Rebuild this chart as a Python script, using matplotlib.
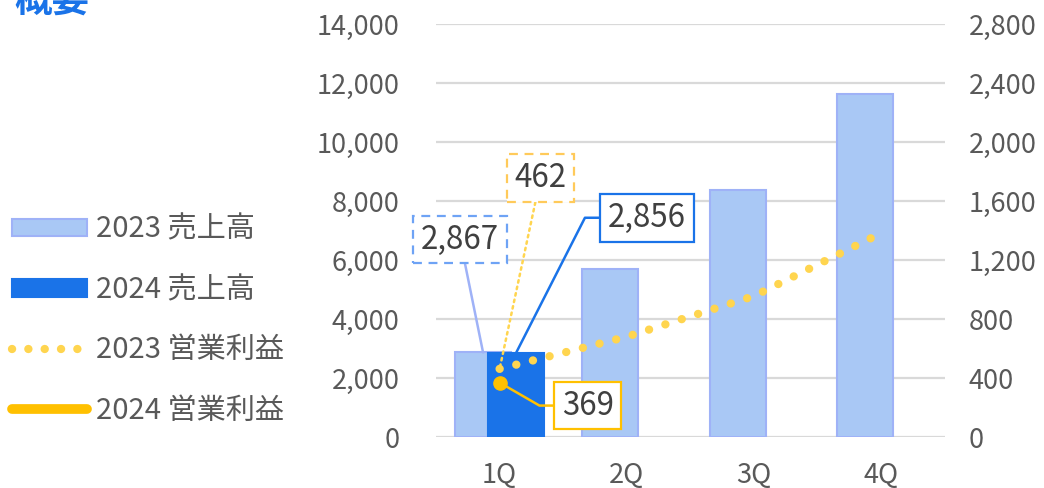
import matplotlib
matplotlib.use("Agg")
import matplotlib.pyplot as plt
from matplotlib.patches import Patch
from matplotlib.lines import Line2D
from matplotlib.ticker import FuncFormatter, MultipleLocator
import numpy as np

plt.rcParams['font.family'] = ['Noto Sans CJK JP', 'DejaVu Sans']

quarters = ['1Q', '2Q', '3Q', '4Q']
sales_2023 = [2867, 5700, 8370, 11630]
sales_2024 = [2856]
op_2023 = [462, 680, 956, 1383]
op_2024 = [369]
labels = ['2023 売上高', '2024 売上高', '2023 営業利益', '2024 営業利益']

GRAY = '#595959'
C23 = '#a9c8f5'
C23_EDGE = '#9fb2f7'
C24 = '#1a73e8'
OP23 = '#ffd54f'
OP24 = '#ffc000'
DOTS = (0, (0.01, 2.05))

fig = plt.figure(figsize=(10.44, 4.88), dpi=100)
ax = fig.add_axes([0.4176, 0.1045, 0.4876, 0.8463])
ax2 = ax.twinx()

x = np.arange(len(quarters))
w = 0.44
off = 0.13
ax.bar(x - off, sales_2023, w, color=C23, edgecolor=C23_EDGE, lw=1.5, zorder=2)
ax.bar(x[:len(sales_2024)] + off, sales_2024, w, color=C24, edgecolor=C24, lw=1.5, zorder=3)

ax.set_xlim(-0.5, 3.5)
ax.set_ylim(0, 14000)
ax2.set_ylim(0, 2800)
ax.yaxis.set_major_locator(MultipleLocator(2000))
ax2.yaxis.set_major_locator(MultipleLocator(400))
fmt = FuncFormatter(lambda v, p: f'{int(v):,}')
ax.yaxis.set_major_formatter(fmt)
ax2.yaxis.set_major_formatter(fmt)
ax.set_xticks(x, quarters)

ax.grid(axis='y', color='#d9d9d9', lw=1.6, zorder=0)
ax.set_axisbelow(True)
for a in (ax, ax2):
    for s in a.spines.values():
        s.set_visible(False)
    a.tick_params(length=0, labelsize=19.5, labelcolor=GRAY)
ax.tick_params(axis='y', pad=26)
ax.tick_params(axis='x', pad=18)
ax2.tick_params(axis='y', pad=17)

# operating profit on the right axis
ax2.plot(x, op_2023, color=OP23, lw=6, ls=DOTS, dash_capstyle='round', zorder=4)
ax2.plot(x[:len(op_2024)], op_2024, color=OP24, marker='o', ms=9.5, lw=0, zorder=5)

def label_box(a, text, xy, offset, ec, ls, line_color, line_ls, conn):
    a.annotate(text, xy=xy, xytext=offset, textcoords='offset pixels',
               ha='center', va='center', fontsize=22.5, color='#404040',
               bbox=dict(boxstyle='square,pad=0.25', fc='white', ec=ec, lw=1.6, ls=ls),
               arrowprops=dict(arrowstyle='-', color=line_color, lw=1.8, ls=line_ls,
                               shrinkA=0, shrinkB=0, connectionstyle=conn),
               zorder=6)

label_box(ax, f'{sales_2023[0]:,}', (x[0] - off, sales_2023[0]), (-23, 113),
          '#6ea3f5', (0, (4, 3)), C23_EDGE, '-', 'arc3')
label_box(ax, f'{sales_2024[0]:,}', (x[0] + off, sales_2024[0]), (131, 135),
          C24, '-', C24, '-', 'angle,angleA=0,angleB=63,rad=0')
label_box(ax2, f'{op_2023[0]}', (x[0], op_2023[0]), (41, 191),
          '#ffca5a', (0, (4, 3)), OP23, ':', 'arc3')
label_box(ax2, f'{op_2024[0]}', (x[0], op_2024[0]), (88, -23),
          OP24, '-', OP24, '-', 'angle,angleA=0,angleB=-30,rad=0')

handles = [
    Patch(facecolor=C23, edgecolor=C23_EDGE, lw=1.5),
    Patch(facecolor=C24, edgecolor=C24, lw=1.5),
    Line2D([], [], color=OP23, lw=6, ls=(0, (0.01, 1.95)), dash_capstyle='round'),
    Line2D([], [], color=OP24, lw=7, solid_capstyle='round'),
]
leg = fig.legend(handles, labels, loc='upper left', bbox_to_anchor=(0.0115, 0.56),
                 frameon=False, fontsize=21, labelcolor=GRAY, handlelength=2.57,
                 handleheight=0.55, handletextpad=0.31, labelspacing=1.04,
                 borderaxespad=0, borderpad=0)

fig.text(0.014, (488 - 12) / 488, '概要', color='#1a73e8', fontsize=27,
         fontweight='bold', va='baseline')

fig.savefig('out.png', dpi=100)
